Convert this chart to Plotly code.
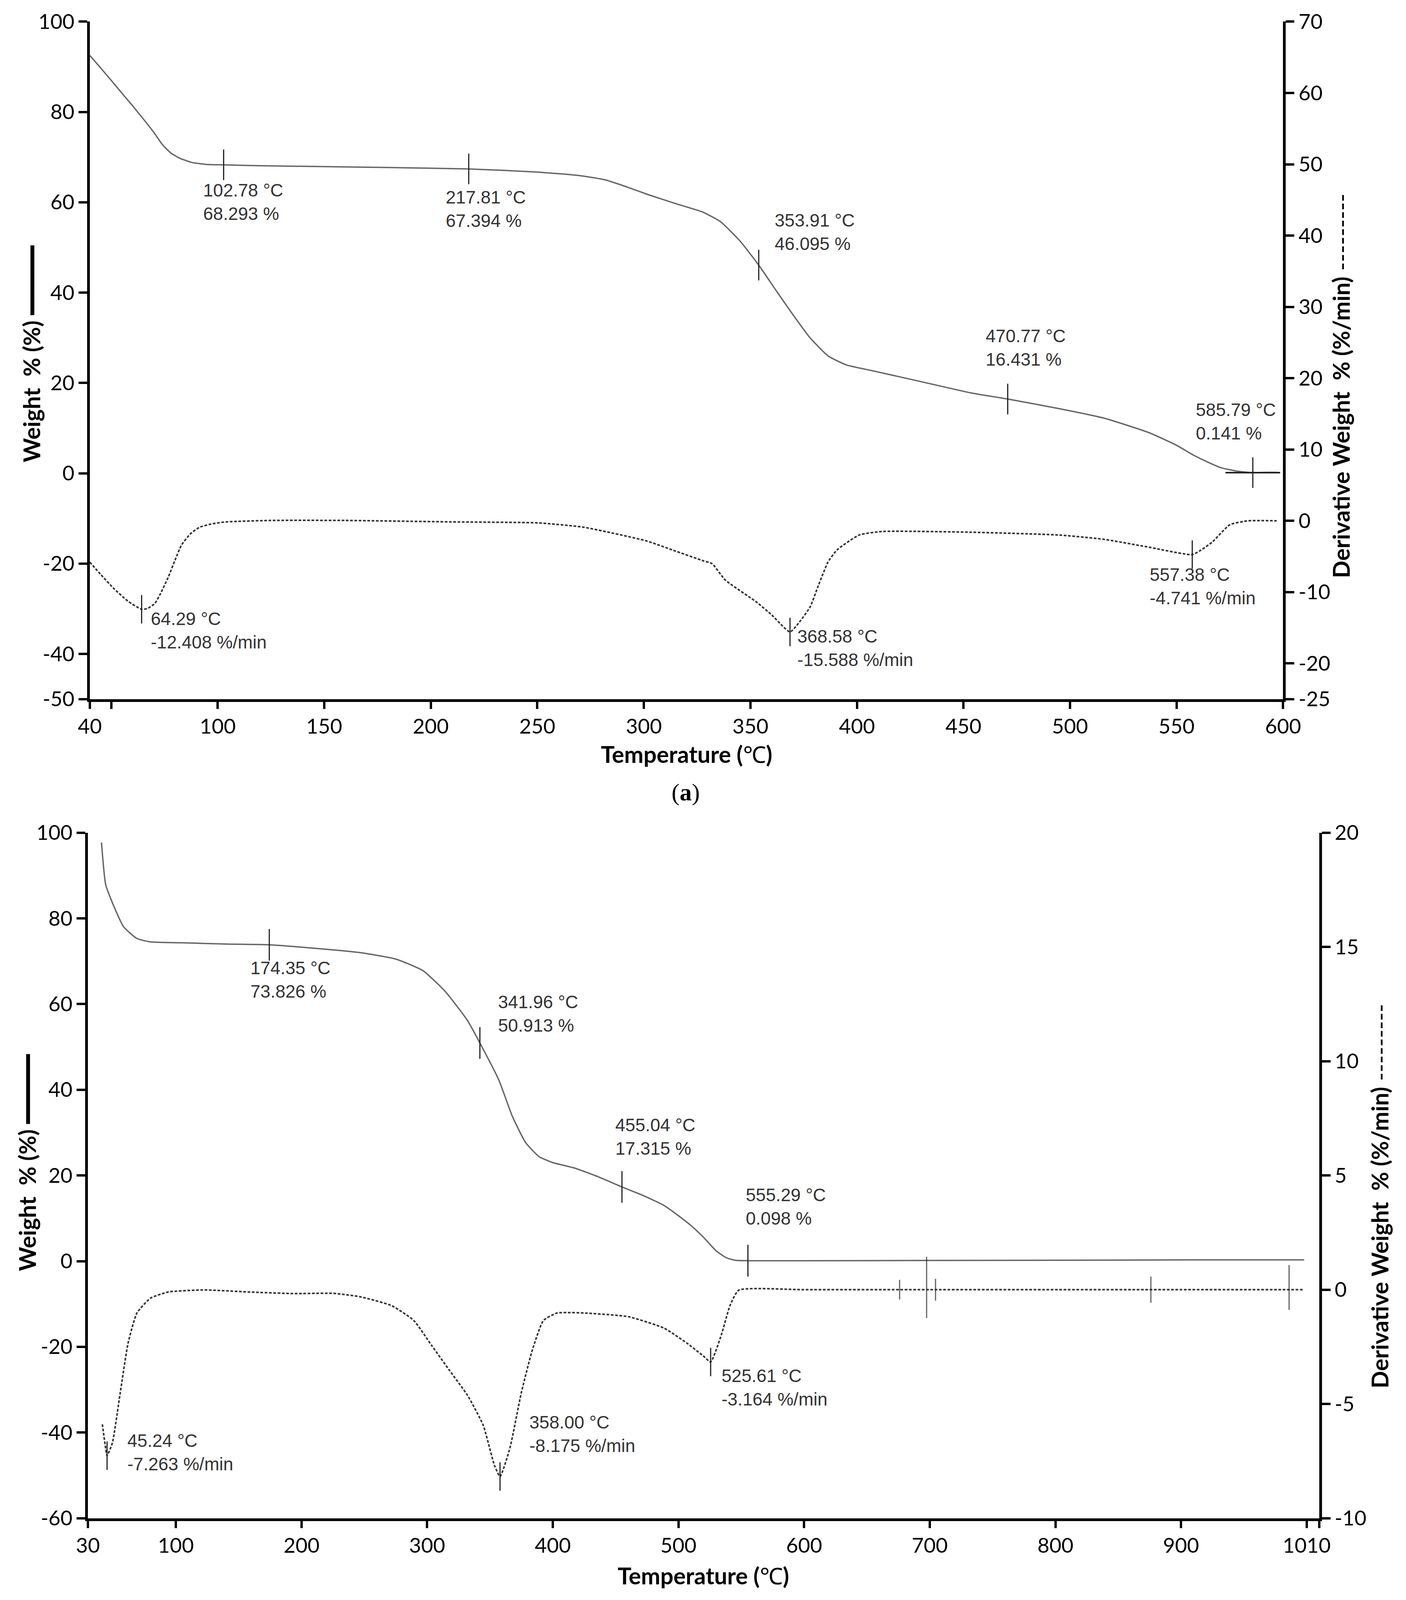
import plotly.graph_objects as go

# ---------------- data: chart (a) ----------------
tg_a_T = [40, 45, 50, 55, 60, 65, 70, 74, 78, 82, 88, 96, 102.78, 120, 150, 180, 217.81, 250, 270,
          281.6, 292, 302, 315, 327.8, 336, 345, 353.91, 362, 369.7, 378, 386.4, 395, 407.3, 430,
          453.4, 470.77, 495, 516, 537, 550, 558, 565, 571, 578, 585.79, 592, 597]
tg_a_W = [92.5, 89.8, 87.0, 84.2, 81.4, 78.5, 75.5, 72.8, 70.9, 69.8, 68.8, 68.35, 68.293, 68.1, 67.9,
          67.7, 67.394, 66.7, 65.9, 65.0, 63.4, 61.7, 59.7, 57.8, 55.7, 51.5, 46.095, 40.5, 35.3, 30.0,
          26.0, 24.0, 22.7, 20.3, 17.8, 16.431, 14.3, 12.2, 9.0, 6.2, 4.0, 2.4, 1.2, 0.5, 0.141, 0.2, 0.2]

dtg_a_T = [40, 45, 51.6, 58, 64.29, 67, 70.5, 73, 76.8, 80, 83, 87.3, 91.5, 97.7, 104, 125, 160, 208.8,
           250.7, 271.7, 301, 313.5, 327.8, 332, 338.2, 352.9, 360, 368.58, 373, 378, 382, 386.4, 390.6,
           401, 411.6, 453.4, 495, 516, 537, 557.38, 562, 566.7, 575, 583.5, 597]
dtg_a_D = [-5.8, -7.5, -9.6, -11.3, -12.408, -12.3, -11.6, -10.3, -7.9, -5.5, -3.4, -1.8, -0.9, -0.4,
           -0.15, 0.05, 0.05, -0.15, -0.3, -0.9, -2.8, -4.1, -5.6, -6.0, -8.3, -11.4, -13.2, -15.588,
           -14.2, -12.1, -9.0, -5.8, -4.1, -2.0, -1.5, -1.6, -2.0, -2.6, -3.7, -4.741, -4.0, -3.0, -0.55,
           0.0, 0.0]

pk_a_tg_T = [102.78, 217.81, 353.91, 470.77, 585.79]
pk_a_tg_W = [68.293, 67.394, 46.095, 16.431, 0.141]
pk_a_dtg_T = [64.29, 368.58, 557.38]
pk_a_dtg_D = [-12.408, -15.588, -4.741]

# ---------------- data: chart (b) ----------------
tg_b_T = [40.8, 44.2, 51.4, 58.5, 69, 79.8, 104.6, 140, 174.35, 211, 246.7, 275, 296.6, 314.5, 332,
          341.96, 357, 367.8, 378.3, 389, 400, 417.6, 436, 455.04, 472, 488.5, 500, 510, 519.8, 530,
          538, 545, 555.29, 600, 700, 800, 925, 998]
tg_b_W = [97.7, 87.8, 82.3, 78.0, 75.3, 74.5, 74.3, 74.0, 73.826, 73.0, 72.0, 70.5, 67.8, 62.9, 56.2,
          50.913, 42.3, 33.8, 27.7, 24.4, 23.0, 21.7, 19.7, 17.315, 15.3, 13.0, 10.6, 8.3, 5.6, 2.4,
          0.8, 0.2, 0.098, 0.1, 0.15, 0.2, 0.3, 0.3]

dtg_b_T = [41.5, 44, 45.24, 49.5, 55.7, 62, 69, 79.8, 94, 122.6, 157.9, 193.5, 225.6, 246.7, 271.8,
           289.4, 303.7, 317.9, 332.2, 344.6, 353.5, 358.0, 365.9, 374.9, 383.6, 392.5, 403.4, 424.7,
           460, 488.5, 506.5, 519.8, 525.61, 534, 541, 548, 600, 700, 800, 900, 998]
dtg_b_D = [-5.89, -6.9, -7.263, -6.7, -4.52, -2.33, -1.02, -0.37, -0.10, -0.01, -0.10, -0.17, -0.16,
           -0.31, -0.70, -1.35, -2.45, -3.54, -4.63, -5.93, -7.68, -8.175, -6.92, -4.52, -2.66, -1.35,
           -1.02, -1.02, -1.18, -1.68, -2.33, -2.9, -3.164, -2.0, -0.70, -0.02, 0.0, 0.0, 0.0, 0.0, 0.0]

pk_b_tg_T = [174.35, 341.96, 455.04, 555.29]
pk_b_tg_W = [73.826, 50.913, 17.315, 0.098]
pk_b_dtg_T = [45.24, 358.00, 525.61]
pk_b_dtg_D = [-7.263, -8.175, -3.164]
extra_b_T = [676, 697.5, 704.6, 876, 986]
extra_b_D = [0.0, 0.1, 0.0, 0.0, 0.1]

# tick labels
xt_a = [40, 50, 100, 150, 200, 250, 300, 350, 400, 450, 500, 550, 600]
xl_a = ["40", "", "100", "150", "200", "250", "300", "350", "400", "450", "500", "550", "600"]
yt_a = [-50, -40, -20, 0, 20, 40, 60, 80, 100]
yt_a2 = [-25, -20, -10, 0, 10, 20, 30, 40, 50, 60, 70]
xt_b = [30, 100, 200, 300, 400, 500, 600, 700, 800, 900, 1000, 1010]
xl_b = ["30", "100", "200", "300", "400", "500", "600", "700", "800", "900", "1010", ""]
yt_b = [-60, -40, -20, 0, 20, 40, 60, 80, 100]
yt_b2 = [-10, -5, 0, 5, 10, 15, 20]

W, H = 3599, 4903   # reference size (used for fractional placement)
TG_COL = "#666666"
DTG_COL = "#333333"
MK_COL = "#222222"
TICKFONT = dict(family="Lato", size=53, color="black")
ANNFONT = dict(family="Liberation Sans", size=46, color="#333333")
TITLEFONT = dict(family="Lato", size=59, color="black")

fig = go.Figure()

def line(x, y, xa, ya, dash=None, col=TG_COL, w=3.5):
    fig.add_trace(go.Scatter(x=x, y=y, xaxis=xa, yaxis=ya, mode="lines",
                             line=dict(color=col, width=w, dash=dash, shape="spline", smoothing=0.5),
                             showlegend=False, hoverinfo="skip"))

def marks(x, y, xa, ya, size=56, sym="line-ns", w=3):
    fig.add_trace(go.Scatter(x=x, y=y, xaxis=xa, yaxis=ya, mode="markers",
                             marker=dict(symbol=sym, size=size, line=dict(color=MK_COL, width=w)),
                             showlegend=False, hoverinfo="skip", cliponaxis=False))

# chart (a)
line(tg_a_T, tg_a_W, "x", "y")
line(dtg_a_T, dtg_a_D, "x", "y2", dash="7px,4px", col=DTG_COL, w=4)
marks(pk_a_tg_T, pk_a_tg_W, "x", "y")
marks(pk_a_tg_T[-1:], pk_a_tg_W[-1:], "x", "y", size=100, sym="line-ew", w=4)
marks(pk_a_dtg_T, pk_a_dtg_D, "x", "y2", size=52)

# chart (b)
line(tg_b_T, tg_b_W, "x2", "y3")
line(dtg_b_T, dtg_b_D, "x2", "y4", dash="7px,4px", col=DTG_COL, w=4)
marks(pk_b_tg_T, pk_b_tg_W, "x2", "y3", size=58)
marks(pk_b_dtg_T, pk_b_dtg_D, "x2", "y4", size=52)
marks(extra_b_T, extra_b_D, "x2", "y4", size=[36, 112, 40, 48, 82], w=3)

ax_common = dict(showline=True, linecolor="black", linewidth=7, ticks="outside", tickwidth=6,
                 tickcolor="black", showgrid=False, zeroline=False, tickfont=TICKFONT,
                 tickmode="array", fixedrange=True)

xa_dom = [223 / W, 3291 / W]
ya_dom = [1 - 2141 / H, 1 - 57 / H]
xb_dom = [218 / W, 3384 / W]
yb_dom = [1 - 4661 / H, 1 - 2552 / H]

fig.update_layout(
    autosize=True, template="none", paper_bgcolor="white", plot_bgcolor="white",
    margin=dict(l=0, r=0, t=0, b=0), showlegend=False,
    xaxis=dict(ax_common, domain=xa_dom, range=[40, 600], anchor="y", tickvals=xt_a, ticktext=xl_a, ticklen=18),
    yaxis=dict(ax_common, domain=ya_dom, range=[-50, 100], anchor="x", tickvals=yt_a,
               ticktext=[str(v) for v in yt_a], ticklen=22),
    yaxis2=dict(ax_common, overlaying="y", side="right", anchor="x", range=[-25, 70], tickvals=yt_a2,
                ticktext=[str(v) for v in yt_a2], ticklen=22),
    xaxis2=dict(ax_common, domain=xb_dom, range=[30, 1010], anchor="y3", tickvals=xt_b, ticktext=xl_b, ticklen=18),
    yaxis3=dict(ax_common, domain=yb_dom, range=[-60, 100], anchor="x2", tickvals=yt_b,
                ticktext=[str(v) for v in yt_b], ticklen=22),
    yaxis4=dict(ax_common, overlaying="y3", side="right", anchor="x2", range=[-10, 20], tickvals=yt_b2,
                ticktext=[str(v) for v in yt_b2], ticklen=22),
)

# peak labels: (x of text left edge, y of block centre) in the left-axis units of each chart
lab_a_tg_pos = [(92.9, 60.05), (206.8, 58.54), (361.3, 53.43), (460.3, 27.84), (558.8, 11.5)]
lab_a_dtg_pos = [(68.5, -34.78), (371.8, -38.68), (537.3, -25.06)]
lab_b_tg_pos = [(159.1, 65.7), (356.0, 57.8), (449.4, 29.06), (553.4, 12.7)]
lab_b_dtg_pos = [(61.0, -44.6), (381.0, -40.35), (534.0, -29.45)]

anns = []

def add_lab(pos, T, V, unit, xr, yr):
    for (px, py), t, v in zip(pos, T, V):
        anns.append(dict(x=px, y=py, xref=xr, yref=yr, text=f"{t:.2f} °C<br>{v:.3f} {unit}",
                         showarrow=False, align="left", xanchor="left", yanchor="middle",
                         font=ANNFONT, borderpad=0))

add_lab(lab_a_tg_pos, pk_a_tg_T, pk_a_tg_W, "%", "x", "y")
add_lab(lab_a_dtg_pos, pk_a_dtg_T, pk_a_dtg_D, "%/min", "x", "y")
add_lab(lab_b_tg_pos, pk_b_tg_T, pk_b_tg_W, "%", "x2", "y3")
add_lab(lab_b_dtg_pos, pk_b_dtg_T, pk_b_dtg_D, "%/min", "x2", "y3")

nb = "\u00a0"
left_title = (f"<b>Weight{nb}{nb}%{nb}(%){nb}</b>"
              f"<span style='font-family:DejaVu Sans'>━━━━━</span>")
right_title = f"<b>Derivative{nb}Weight{nb}{nb}%{nb}(%/min)</b>{nb}---------"
x_title = "<b>Temperature (</b>℃<b>)</b>"

def title(x, y, text, angle=0):
    anns.append(dict(x=x / W, y=1 - y / H, xref="paper", yref="paper", text=text, showarrow=False,
                     textangle=angle, xanchor="center", yanchor="middle", font=TITLEFONT))

title(73, 1079, left_title, -90)
title(3440, 1178, right_title, -90)
title(1757, 2310, x_title)
title(63, 3567, left_title, -90)
title(3540, 3670, right_title, -90)
title(1801, 4838, x_title)
anns.append(dict(x=1755 / W, y=1 - 2428 / H, xref="paper", yref="paper", text="(<b>a</b>)", showarrow=False,
                 xanchor="center", yanchor="middle", font=dict(family="Liberation Serif", size=62, color="black")))

fig.update_layout(annotations=anns)
fig.write_html("out.html", default_width="100%", default_height="calc(100vh - 16px)",
               config={"responsive": True})
